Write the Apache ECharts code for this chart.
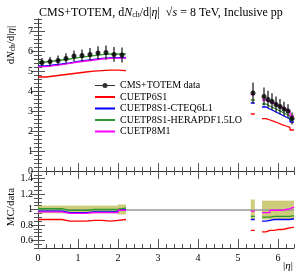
<!DOCTYPE html>
<html><head><meta charset="utf-8">
<script src="https://cdn.jsdelivr.net/npm/echarts@6/dist/echarts.min.js"></script>
<style>html,body{margin:0;padding:0;background:#fff}#c{width:304px;height:274px}</style>
</head><body><div id="c"></div>
<script>
// ---- data ----
const binLo = [0.0,0.2,0.4,0.6,0.8,1.0,1.2,1.4,1.6,1.8,2.0, 5.32, 5.6,5.7,5.8,5.9,6.0,6.1,6.2,6.3];
const binHi = [0.2,0.4,0.6,0.8,1.0,1.2,1.4,1.6,1.8,2.0,2.2, 5.42, 5.7,5.8,5.9,6.0,6.1,6.2,6.3,6.4];
const etaCenter = [0.1,0.3,0.5,0.7,0.9,1.1,1.3,1.5,1.7,1.9,2.1, 5.375, 5.65,5.75,5.85,5.95,6.05,6.15,6.25,6.35];
const dataVal = [5.43,5.47,5.53,5.63,5.75,5.78,5.83,5.9,5.92,5.83,5.8, 3.9, 3.72,3.58,3.47,3.33,3.22,3.1,3.0,2.63];
const dataErr = [0.22,0.23,0.24,0.26,0.28,0.3,0.32,0.34,0.36,0.37,0.37, 0.52, 0.45,0.43,0.42,0.4,0.38,0.36,0.34,0.3];

const mcP6S1   = [4.7,4.75,4.8,4.85,4.9,4.95,4.99,5.02,5.04,5.04,5.02, 2.85, 2.62,2.55,2.48,2.4,2.32,2.25,2.18,2.05];
const mcCTEQ   = [5.25,5.3,5.35,5.41,5.48,5.53,5.58,5.63,5.66,5.67,5.67, 3.4, 3.2,3.1,3.0,2.9,2.8,2.7,2.6,2.45];
const mcHERA   = [5.45,5.5,5.55,5.6,5.67,5.72,5.77,5.82,5.85,5.85,5.85, 3.55, 3.35,3.25,3.15,3.05,2.95,2.85,2.75,2.6];
const mcP8M1   = [5.22,5.27,5.32,5.38,5.45,5.5,5.55,5.6,5.63,5.64,5.64, 3.82, 3.55,3.45,3.38,3.28,3.18,3.08,3.0,2.75];

const ratioP6S1 = [0.87,0.87,0.87,0.85,0.85,0.85,0.86,0.86,0.85,0.86,0.87, 0.73, 0.71,0.73,0.73,0.74,0.74,0.75,0.76,0.77];
const ratioCTEQ = [0.98,0.98,0.98,0.96,0.96,0.96,0.97,0.97,0.97,0.97,1.0, 0.87, 0.85,0.86,0.87,0.87,0.87,0.87,0.87,0.88];
const ratioHERA = [1.01,1.01,1.01,0.99,0.99,0.99,1.0,1.0,1.0,1.0,1.02, 0.91, 0.90,0.90,0.91,0.91,0.91,0.91,0.91,0.92];
const ratioP8M1 = [0.97,0.97,0.97,0.95,0.95,0.95,0.96,0.96,0.96,0.96,0.99, 0.98, 0.96,0.96,0.99,0.99,0.99,1.0,1.01,1.03];
const bandLo = [0.95,0.95,0.95,0.95,0.95,0.95,0.95,0.95,0.95,0.95,0.935, 0.87, 0.87,0.87,0.87,0.87,0.87,0.87,0.87,0.87];
const bandHi = [1.05,1.05,1.05,1.05,1.05,1.05,1.05,1.05,1.05,1.05,1.065, 1.13, 1.115,1.115,1.115,1.115,1.115,1.115,1.115,1.115];

const xTickLabels = [0,1,2,3,4,5,6];
const yTickLabelsTop = [0,1,2,3,4,5,6,7];
const yTickLabelsRatio = [0.6,0.8,1,1.2,1.4];

const names = ['CMS+TOTEM data','CUETP6S1','CUETP8S1-CTEQ6L1','CUETP8S1-HERAPDF1.5LO','CUETP8M1'];
const colors = ['#000000','#ff0000','#0000ff','#2e9a2e','#ff00ff'];

// ---- layout ----
const FONT = '"Liberation Serif", "DejaVu Serif", serif';
const L = 38, W = 256, T1 = 19, H1 = 152, T2 = 171, H2 = 77;
const AX = '#333', TK = '#555';

function segments(vals) {
  const segs = []; let cur = [];
  for (let i = 0; i < vals.length; i++) {
    if (i > 0 && Math.abs(binLo[i] - binHi[i-1]) > 1e-6) { segs.push(cur); cur = []; }
    cur.push([binLo[i], vals[i]]); cur.push([binHi[i], vals[i]]);
  }
  segs.push(cur); return segs;
}

// Ratio panel is declared first so that its y labels are laid out before the upper panel's.
const grids = [
  {left:L, top:T2, width:W, height:H2},
  {left:L, top:T1, width:W, height:H1},
  {left:L, top:T1, width:W, height:H1},
  {left:L, top:T2, width:W, height:H2}
];
const xAxis = [], yAxis = [];
function lbl(show, fmt, custom) {
  const o = {show:!!show, margin:5, color:'#000', fontFamily:FONT, fontSize:10, formatter:fmt};
  if (custom) o.customValues = custom;
  return o;
}
function xa(g, pos, interval, len, custom, labels, showLine) {
  const a = {type:'value', gridIndex:g, position:pos, min:0, max:6.4, interval:interval,
    axisLine:{show:showLine, lineStyle:{color:AX, width:1}},
    axisTick:{show:true, inside:true, length:len, lineStyle:{color:TK, width:1}},
    axisLabel:lbl(labels, undefined, custom), splitLine:{show:false}};
  if (custom) a.axisTick.customValues = custom;
  xAxis.push(a);
}
function ya(g, pos, min, max, interval, len, custom, labels, showLine, fmt) {
  const a = {type:'value', gridIndex:g, position:pos, min:min, max:max, interval:interval,
    axisLine:{show:showLine, lineStyle:{color:AX, width:1}},
    axisTick:{show:true, inside:true, length:len, lineStyle:{color:TK, width:1}},
    axisLabel:lbl(labels, fmt, custom), splitLine:{show:false}};
  if (custom) a.axisTick.customValues = custom;
  yAxis.push(a);
}
const fmt1 = v => String(+(+v).toFixed(1));
// grid 0: ratio main (axis index 0)
xa(0,'bottom',1,9,xTickLabels,true,true);
xa(0,'top',1,4,xTickLabels,false,true);
ya(0,'left',0.5,1.5,0.1,7,yTickLabelsRatio,true,true, fmt1);
ya(0,'right',0.5,1.5,0.1,7,yTickLabelsRatio,false,true);
// grid 1: top main (axis index 2)
xa(1,'bottom',1,8,xTickLabels,false,true);
xa(1,'top',1,8,xTickLabels,false,true);
ya(1,'left',0,7.6,1,7,yTickLabelsTop,true,true);
ya(1,'right',0,7.6,1,7,yTickLabelsTop,false,true);
// grid 2: top minor
xa(2,'bottom',0.2,4,null,false,false);
xa(2,'top',0.2,4,null,false,false);
ya(2,'left',0,7.6,0.2,4,null,false,false);
ya(2,'right',0,7.6,0.2,4,null,false,false);
// grid 3: ratio minor
xa(3,'bottom',0.2,4,null,false,false);
xa(3,'top',0.2,3,null,false,false);
ya(3,'left',0.5,1.5,0.05,4,null,false,false);
ya(3,'right',0.5,1.5,0.05,4,null,false,false);

const TOP = 2, RAT = 0;
const series = [];
series.push({type:'custom', name:'band', xAxisIndex:RAT, yAxisIndex:RAT, z:1, silent:true,
  encode:{x:[0,1], y:[2,3]},
  data: binLo.map((lo,i) => [lo, binHi[i], bandLo[i], bandHi[i]]),
  renderItem: (p, api) => {
    const a = api.coord([api.value(0), api.value(3)]);
    const b = api.coord([api.value(1), api.value(2)]);
    return {type:'rect', shape:{x:a[0], y:a[1], width:b[0]-a[0], height:b[1]-a[1]},
      style:{fill:'rgba(180,180,60,0.68)'}};
  },
  markLine:{silent:true, symbol:'none', label:{show:false}, lineStyle:{color:'#999', width:1.5, type:'solid'},
    data:[{yAxis:1}], z:2}
});
const mcTop = [mcP6S1, mcCTEQ, mcHERA, mcP8M1];
const mcRatio = [ratioP6S1, ratioCTEQ, ratioHERA, ratioP8M1];
for (let k = 0; k < 4; k++) {
  segments(mcTop[k]).forEach(seg => series.push({type:'line', name:names[k+1], xAxisIndex:TOP, yAxisIndex:TOP,
    data:seg, showSymbol:false, symbol:'none', z:3, lineStyle:{color:colors[k+1], width:1.3}, itemStyle:{color:colors[k+1], opacity:0}, animation:false}));
  segments(mcRatio[k]).forEach(seg => series.push({type:'line', name:names[k+1], xAxisIndex:RAT, yAxisIndex:RAT,
    data:seg, showSymbol:false, symbol:'none', z:3, lineStyle:{color:colors[k+1], width:1.3}, itemStyle:{color:colors[k+1], opacity:0}, animation:false}));
}
series.push({type:'custom', name:'err', xAxisIndex:TOP, yAxisIndex:TOP, z:4, silent:true,
  encode:{x:0, y:[1,2]},
  data: etaCenter.map((x,i) => [x, dataVal[i]-dataErr[i], dataVal[i]+dataErr[i]]),
  renderItem: (p, api) => {
    const a = api.coord([api.value(0), api.value(1)]);
    const b = api.coord([api.value(0), api.value(2)]);
    return {type:'line', shape:{x1:a[0], y1:a[1], x2:b[0], y2:b[1]}, style:{stroke:'#222', lineWidth:1.3}};
  }
});
series.push({type:'scatter', name:names[0], xAxisIndex:TOP, yAxisIndex:TOP, z:5,
  data: etaCenter.map((x,i) => [x, dataVal[i]]), symbol:'circle', symbolSize:5, itemStyle:{color:'#000'}});

const dataIcon = 'path://M0,4.4h20v1.2h-20z M10,2.5a2.5,2.5 0 1,1 0,5a2.5,2.5 0 1,1 0,-5z';

const chart = echarts.init(document.getElementById('c'), null, {renderer:'canvas'});
chart.setOption({
  animation:false,
  backgroundColor:'#fff',
  title:{left:34, top:1, text:'CMS+TOTEM, d{i|N}{s|ch}/d|{i|η}|  √{i|s} = 8 TeV, Inclusive pp',
    textStyle:{fontFamily:FONT, fontSize:12, fontWeight:'normal', color:'#000',
      rich:{i:{fontFamily:FONT, fontSize:12, fontStyle:'italic', color:'#000'},
            s:{fontFamily:FONT, fontSize:8, color:'#000', padding:[5,0,0,0]}}}},
  legend:{orient:'vertical', left:89, top:75, itemWidth:20, itemHeight:6, itemGap:0.5,
    textStyle:{fontFamily:FONT, fontSize:10, color:'#000', lineHeight:11},
    data:[{name:names[0], icon:dataIcon},
      {name:names[1], itemStyle:{opacity:0}}, {name:names[2], itemStyle:{opacity:0}},
      {name:names[3], itemStyle:{opacity:0}}, {name:names[4], itemStyle:{opacity:0}}]},
  grid:grids, xAxis:xAxis, yAxis:yAxis, series:series,
  graphic:[
    {type:'text', x:11, y:45, rotation:Math.PI/2, style:{text:'d{i|N}{s|ch}/d|{i|η}|', x:0, y:0, align:'center', verticalAlign:'middle',
      fontFamily:FONT, fontSize:11, fill:'#000',
      rich:{i:{fontFamily:FONT, fontSize:11, fontStyle:'italic'}, s:{fontFamily:FONT, fontSize:7.5, padding:[5,0,0,0]}}}},
    {type:'text', x:11, y:207, rotation:Math.PI/2, style:{text:'MC/data', x:0, y:0, align:'center', verticalAlign:'middle',
      fontFamily:FONT, fontSize:11, fill:'#000'}},
    {type:'text', x:288, y:266, style:{text:'|{i|η}|', x:0, y:0, align:'center', verticalAlign:'middle',
      fontFamily:FONT, fontSize:11, fill:'#000', rich:{i:{fontFamily:FONT, fontSize:11, fontStyle:'italic'}}}}
  ]
});
</script></body></html>
